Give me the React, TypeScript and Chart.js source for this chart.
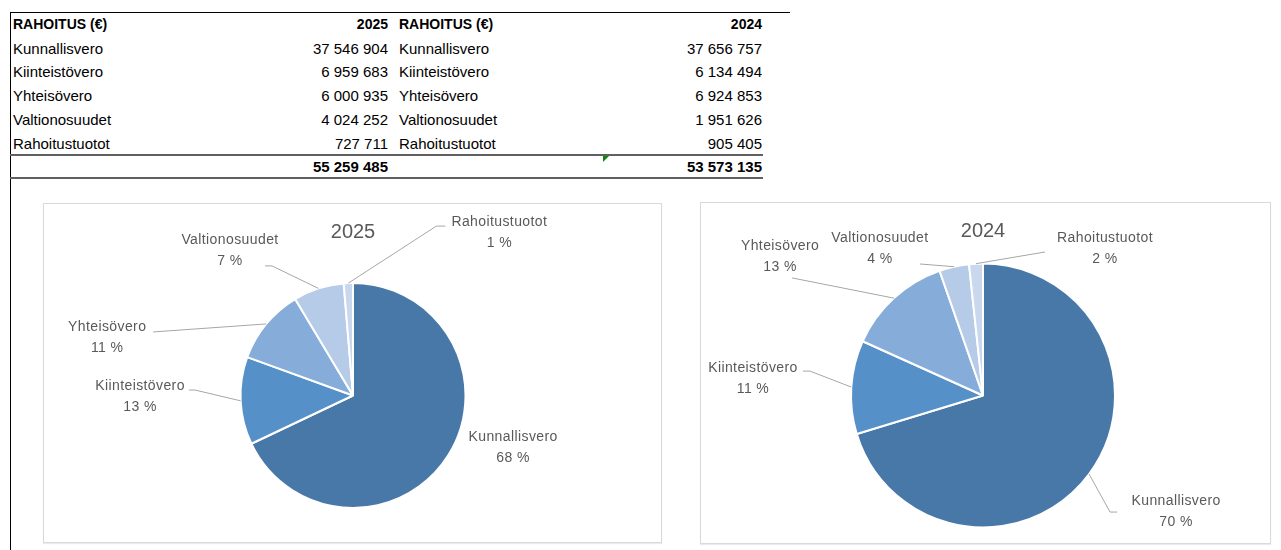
import React, { useEffect, useRef } from 'react';
import { Chart, registerables } from 'chart.js';

Chart.register(...registerables);

// ---------- data ----------
const categories = ['Kunnallisvero', 'Kiinteistövero', 'Yhteisövero', 'Valtionosuudet', 'Rahoitustuotot'];
const values2025 = [37546904, 6959683, 6000935, 4024252, 727711];
const values2024 = [37656757, 6134494, 6924853, 1951626, 905405];
const yearA = '2025';
const yearB = '2024';
const tableHeader = 'RAHOITUS (€)';

// ---------- styles ----------
const sliceColors = ['#4878A8', '#5590C8', '#86ADDA', '#B6CBE7', '#C9D8EE'];
const FONT = '"Liberation Sans", Arial, sans-serif';
const labelColor = '#595959';
const leaderColor = '#A6A6A6';

// label offsets from slice outer mid-point to label centre; leader bend/end relative to label centre
const labelOffsetsA = [[65, -7.6], [-100.6, -3.8], [-159, 14], [-88.5, -38], [151, -50]];
const leadersA = [null, [55, -7, 49, -7], [46, -6, 46, -6], [42, 15.5, 35, 15.5], [-63, -7, -54, -7]];
const labelOffsetsB = [[87, 37.5], [-98.3, -8], [-113.8, -41.7], [-74.2, -17.7], [129, -14.7]];
const leadersB = [[-66, 0.5, -59, 0.5], [57, -8, 50, -8], [12, 21.5, 12, 21.5], [40, 15, 40, 15], [-60, 3, -60, 3]];

const fmt = (n: number) => String(n).replace(/\B(?=(\d{3})+(?!\d))/g, ' ');
const sum = (a: number[]) => a.reduce((s, v) => s + v, 0);

const sliceLabelPlugin = {
  id: 'sliceLabels',
  afterDatasetsDraw(chart: any, _args: any, opts: any) {
    const ctx = chart.ctx;
    const meta = chart.getDatasetMeta(0);
    const data: number[] = chart.data.datasets[0].data;
    const labels: string[] = chart.data.labels;
    const total = sum(data);
    ctx.save();
    ctx.textAlign = 'center';
    ctx.textBaseline = 'middle';
    ctx.fillStyle = labelColor;
    const first = meta.data[0];
    ctx.font = '20px ' + FONT;
    ctx.fillText(opts.title, first.x, opts.titleY);
    ctx.font = '14px ' + FONT;
    (ctx as any).letterSpacing = '0.4px';
    ctx.strokeStyle = leaderColor;
    ctx.lineWidth = 1;
    meta.data.forEach((arc: any, i: number) => {
      const p = arc.getProps(['x', 'y', 'startAngle', 'endAngle', 'outerRadius'], true);
      const mid = (p.startAngle + p.endAngle) / 2;
      const ex = p.x + Math.cos(mid) * p.outerRadius;
      const ey = p.y + Math.sin(mid) * p.outerRadius;
      const off = opts.offsets[i];
      const lx = ex + off[0];
      const ly = ey + off[1];
      const ld = opts.leaders[i];
      if (ld) {
        ctx.beginPath();
        ctx.moveTo(ex, ey);
        ctx.lineTo(lx + ld[0], ly + ld[1]);
        ctx.lineTo(lx + ld[2], ly + ld[3]);
        ctx.stroke();
      }
      const pct = Math.round((data[i] / total) * 100) + ' %';
      ctx.fillText(labels[i], lx, ly - 10.5);
      ctx.fillText(pct, lx, ly + 10.5);
    });
    ctx.restore();
  },
};

type PieProps = {
  values: number[];
  title: string;
  left: number;
  top: number;
  width: number;
  height: number;
  padding: { left: number; top: number; right: number; bottom: number };
  offsets: number[][];
  leaders: (number[] | null)[];
};

function PieBox(props: PieProps) {
  const ref = useRef<HTMLCanvasElement>(null);
  useEffect(() => {
    if (!ref.current) return;
    const chart = new Chart(ref.current, {
      type: 'pie',
      data: {
        labels: categories,
        datasets: [
          {
            data: props.values,
            backgroundColor: sliceColors,
            borderColor: '#ffffff',
            borderWidth: 2,
            hoverOffset: 0,
            offset: 0,
          },
        ],
      },
      options: {
        responsive: false,
        animation: false,
        layout: { padding: props.padding },
        plugins: {
          legend: { display: false },
          tooltip: { enabled: false },
          title: { display: false },
          sliceLabels: { title: props.title, titleY: 29, offsets: props.offsets, leaders: props.leaders },
        } as any,
      },
      plugins: [sliceLabelPlugin],
    });
    return () => chart.destroy();
  }, []);
  return (
    <>
      <div
        style={{
          position: 'absolute',
          left: props.left,
          top: props.top,
          width: props.width - 2,
          height: props.height - 2,
          border: '1px solid #D9D9D9',
          boxShadow: '0 1px 1px rgba(0,0,0,0.08)',
          background: '#fff',
        }}
      />
      <canvas
        ref={ref}
        width={props.width}
        height={props.height}
        style={{ position: 'absolute', left: props.left, top: props.top, width: props.width, height: props.height }}
      />
    </>
  );
}

const ROW_TOP = 13;
const ROW_H = 23.7;

function Cell(props: { x: number; row: number; text: string; align: 'left' | 'right'; bold?: boolean; size?: number }) {
  const style: any = {
    position: 'absolute',
    top: ROW_TOP + props.row * ROW_H,
    height: ROW_H,
    lineHeight: ROW_H + 'px',
    fontFamily: FONT,
    fontSize: props.size || 15,
    fontWeight: props.bold ? 'bold' : 'normal',
    color: '#000',
    whiteSpace: 'nowrap',
  };
  if (props.align === 'left') style.left = props.x;
  else style.right = 1281 - props.x;
  return <div style={style}>{props.text}</div>;
}

export default function App() {
  const totalA = sum(values2025);
  const totalB = sum(values2024);
  return (
    <div style={{ position: 'absolute', left: 0, top: 0, width: 1281, height: 550, background: '#fff', overflow: 'hidden' }}>
      {/* table lines */}
      <div style={{ position: 'absolute', left: 10, top: 12, width: 780, height: 1, background: '#000' }} />
      <div style={{ position: 'absolute', left: 10, top: 12, width: 1, height: 538, background: '#000' }} />
      <div style={{ position: 'absolute', left: 10, top: 154, width: 753, height: 2, background: '#606060' }} />
      <div style={{ position: 'absolute', left: 10, top: 177, width: 753, height: 2, background: '#606060' }} />
      <div
        style={{
          position: 'absolute',
          left: 603,
          top: 156,
          width: 0,
          height: 0,
          borderTop: '6px solid #0A8A0A',
          borderRight: '6px solid transparent',
        }}
      />
      {/* table text */}
      <Cell x={13} row={0} text={tableHeader} align="left" bold size={14} />
      <Cell x={388} row={0} text={yearA} align="right" bold size={14} />
      <Cell x={399} row={0} text={tableHeader} align="left" bold size={14} />
      <Cell x={762} row={0} text={yearB} align="right" bold size={14} />
      {categories.map((c, i) => (
        <React.Fragment key={c}>
          <Cell x={13} row={i + 1} text={c} align="left" />
          <Cell x={388} row={i + 1} text={fmt(values2025[i])} align="right" />
          <Cell x={399} row={i + 1} text={c} align="left" />
          <Cell x={762} row={i + 1} text={fmt(values2024[i])} align="right" />
        </React.Fragment>
      ))}
      <Cell x={388} row={6} text={fmt(totalA)} align="right" bold />
      <Cell x={762} row={6} text={fmt(totalB)} align="right" bold />
      {/* charts */}
      <PieBox
        values={values2025}
        title={yearA}
        left={43}
        top={203}
        width={619}
        height={340}
        padding={{ left: 196.5, top: 79, right: 195.5, bottom: 34 }}
        offsets={labelOffsetsA}
        leaders={leadersA}
      />
      <PieBox
        values={values2024}
        title={yearB}
        left={700}
        top={202}
        width={571}
        height={342}
        padding={{ left: 150, top: 60.5, right: 155, bottom: 15.5 }}
        offsets={labelOffsetsB}
        leaders={leadersB}
      />
    </div>
  );
}
